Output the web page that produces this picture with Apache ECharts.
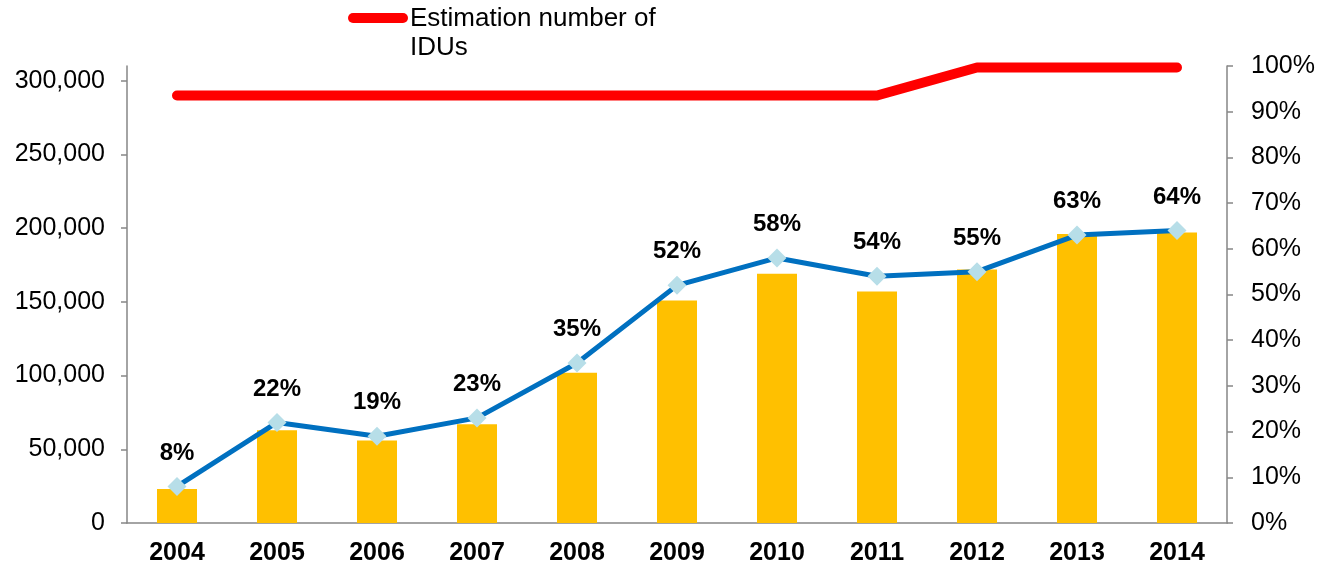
<!DOCTYPE html>
<html>
<head>
<meta charset="utf-8">
<title>IDUs</title>
<script src="https://cdn.jsdelivr.net/npm/echarts@6/dist/echarts.min.js"></script>
<style>
  html, body { margin: 0; padding: 0; background: #fff; }
  #chart { width: 1322px; height: 568px; }
</style>
</head>
<body>
<div id="chart"></div>
<script>
// data
const years = ['2004', '2005', '2006', '2007', '2008', '2009', '2010', '2011', '2012', '2013', '2014']
const onTreatment = [23000, 63000, 56000, 67000, 102000, 151000, 169000, 157000, 172000, 196000, 197000]
const estimatedIdus = [290000, 290000, 290000, 290000, 290000, 290000, 290000, 290000, 309000, 309000, 309000]
const coverage = [0.08, 0.22, 0.19, 0.23, 0.35, 0.52, 0.58, 0.54, 0.55, 0.63, 0.64]
const leftTicks = [0, 50000, 100000, 150000, 200000, 250000, 300000]

const font = 'Arial, "Liberation Sans", sans-serif'
const axisGray = '#868686'

const chart = echarts.init(document.getElementById('chart'))

chart.setOption({
  animation: false,
  textStyle: { fontFamily: font },
  grid: {
    left: 127,
    right: 95,
    top: 66,
    bottom: 45
  },
  // legend drawn by hand: the label wraps and the key sits on its first line
  graphic: [{
    type: 'line',
    shape: { x1: 353, y1: 18, x2: 403, y2: 18 },
    style: { stroke: '#FF0000', lineWidth: 10, lineCap: 'round' }
  }, {
    type: 'text',
    left: 410,
    top: 4,
    style: {
      text: 'Estimation number of\nIDUs',
      fill: '#000',
      font: '26px ' + font,
      lineHeight: 29
    }
  }],
  xAxis: {
    type: 'category',
    data: years,
    axisLine: { lineStyle: { color: axisGray, width: 1.5 } },
    axisTick: { lineStyle: { color: axisGray, width: 1.5 }, length: 6 },
    axisLabel: {
      color: '#000',
      fontWeight: 'bold',
      fontSize: 25,
      margin: 18
    }
  },
  yAxis: [{
    type: 'value',
    min: 0,
    max: 310000,
    interval: 50000,
    splitLine: { show: false },
    axisLine: { show: true, lineStyle: { color: axisGray, width: 1.5 } },
    axisTick: { show: true, length: 6, lineStyle: { color: axisGray, width: 1.5 }, customValues: leftTicks },
    axisLabel: {
      color: '#000',
      fontSize: 25,
      margin: 22,
      customValues: leftTicks,
      formatter: v => v.toLocaleString('en-US')
    }
  }, {
    type: 'value',
    min: 0,
    max: 1,
    interval: 0.1,
    splitLine: { show: false },
    axisLine: { show: true, lineStyle: { color: axisGray, width: 1.5 } },
    axisTick: { show: true, length: 6, lineStyle: { color: axisGray, width: 1.5 } },
    axisLabel: {
      color: '#000',
      fontSize: 25,
      margin: 24,
      formatter: v => Math.round(v * 100) + '%'
    }
  }],
  series: [{
    name: 'On treatment',
    type: 'bar',
    barWidth: 40,
    itemStyle: { color: '#FFC000' },
    data: onTreatment
  }, {
    name: 'Estimation number of IDUs',
    type: 'line',
    symbol: 'none',
    clip: true,
    lineStyle: { color: '#FF0000', width: 10, cap: 'round', join: 'round' },
    itemStyle: { color: '#FF0000' },
    data: estimatedIdus
  }, {
    name: 'Coverage',
    type: 'line',
    yAxisIndex: 1,
    symbol: 'diamond',
    symbolSize: 19,
    lineStyle: { color: '#0070C0', width: 5 },
    itemStyle: { color: '#B7DEE8' },
    label: {
      show: true,
      position: 'top',
      distance: 12,
      color: '#000',
      fontWeight: 'bold',
      fontSize: 24,
      formatter: p => Math.round(p.value * 100) + '%'
    },
    data: coverage
  }]
})
</script>
</body>
</html>
